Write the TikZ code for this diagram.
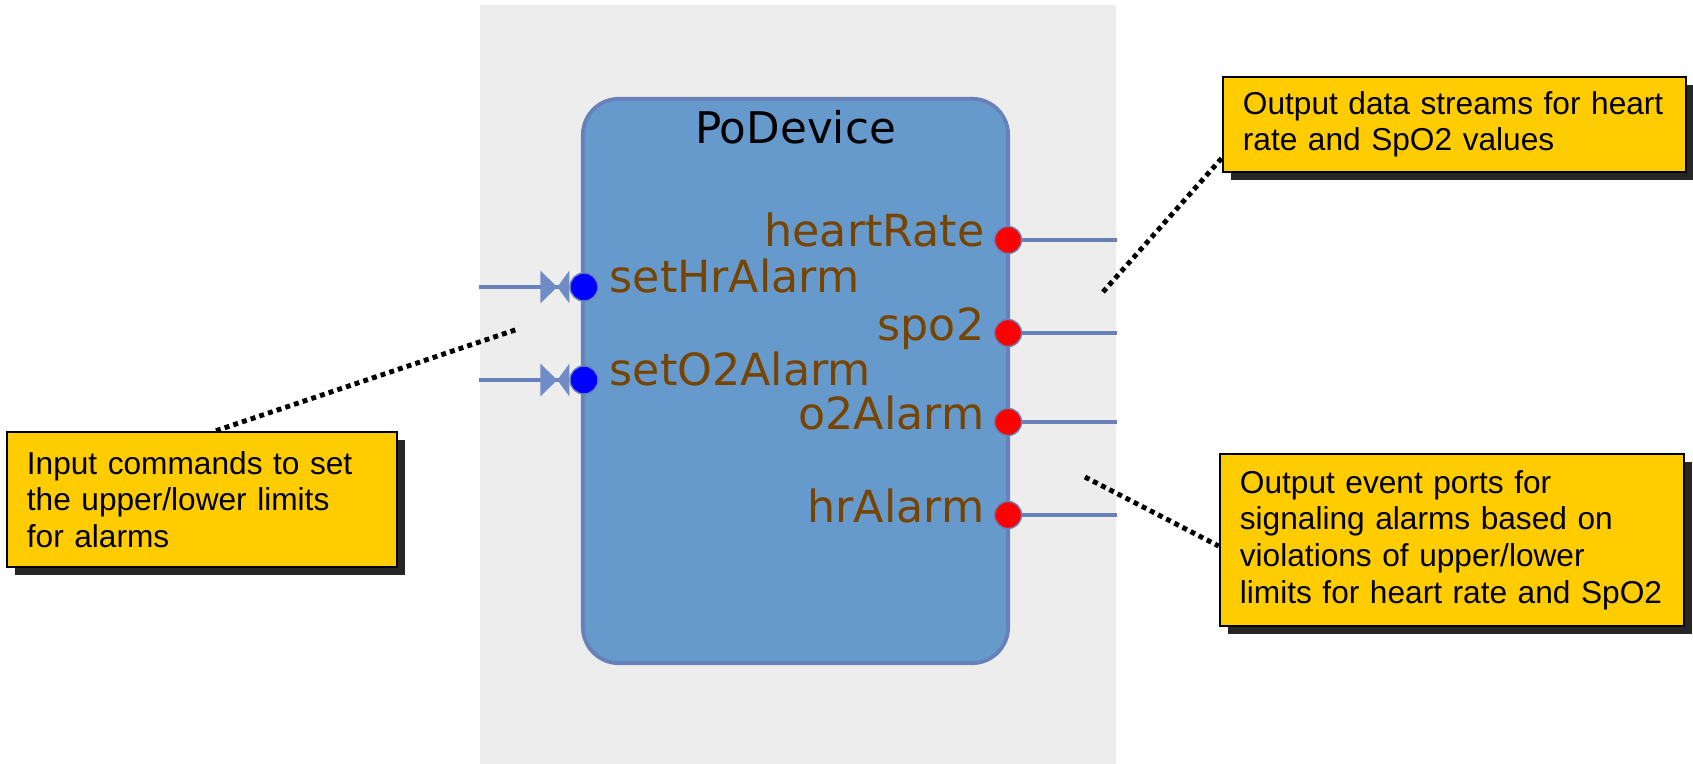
\documentclass[tikz,border=0pt]{standalone}
\usepackage{fontspec}
\usepackage{xcolor}
\usetikzlibrary{arrows.meta,positioning,shadows}
\newfontfamily\portfont{DejaVu Sans}
\newfontfamily\notefont{Liberation Sans}
\definecolor{panelgray}{RGB}{237,237,237}
\definecolor{blockblue}{RGB}{102,153,204}
\definecolor{wireblue}{RGB}{104,130,185}
\definecolor{tipblue}{RGB}{112,140,198}
\definecolor{portbrown}{RGB}{119,68,0}
\definecolor{notegold}{RGB}{255,204,0}

\begin{document}
\begin{tikzpicture}[
  x=0.01cm, y=-0.01cm,
  pnl/.style={rectangle, fill=panelgray, inner sep=0pt, minimum width=6.36cm, minimum height=7.59cm},
  blk/.style={rectangle, rounded corners=0.36cm, draw=wireblue, line width=1.1pt, fill=blockblue,
              minimum width=4.25cm, minimum height=5.64cm},
  outp/.style={circle, inner sep=0pt, minimum size=0.27cm, fill=red, draw=wireblue, line width=0.4pt},
  inp/.style={circle, inner sep=0pt, minimum size=0.28cm, fill=blue, draw=wireblue, line width=0.4pt},
  plbl/.style={inner sep=0pt, text=portbrown, font=\portfont\fontsize{12.6pt}{14pt}\selectfont},
  note/.style={rectangle, draw=black, line width=0.7pt, fill=notegold, align=left,
               inner xsep=0.2cm, inner ysep=0pt, font=\notefont\fontsize{9pt}{10.4pt}\selectfont,
               drop shadow={shadow xshift=0.08cm, shadow yshift=-0.08cm, fill=black!85, opacity=1}},
  wire/.style={draw=wireblue, line width=1.1pt},
  inarr/.style={-{Triangle[length=1.7mm,width=3.2mm,color=tipblue]Triangle[reversed,length=1.2mm,width=3.2mm,color=tipblue]}},
  dots/.style={line width=1.4pt, dash pattern=on 1.4pt off 1.2pt},
]
\useasboundingbox (0,0) rectangle (1693,764);
\node[pnl] (panel) at (798,384.5) {};
\node[blk] (blk) at (795.5,381) {};
\node[anchor=base, inner sep=0pt, font=\portfont\fontsize{12.4pt}{14pt}\selectfont]
  (title) at ([yshift=-0.47cm]blk.north) {PoDevice};

\node[outp] (phr) at (1008,240) {};
\node[outp] (pspo) at (1008,333) {};
\node[outp] (po2a) at (1008,422) {};
\node[outp] (phra) at (1008,515) {};
\node[inp] (pshr) at (584,287) {};
\node[inp] (pso2) at (584,380) {};

\node[plbl, anchor=base east] (lhr) at ([xshift=-0.23cm,yshift=-0.07cm]phr.center) {heartRate};
\node[plbl, anchor=base east] (lspo) at ([xshift=-0.23cm,yshift=-0.07cm]pspo.center) {spo2};
\node[plbl, anchor=base east] (lo2a) at ([xshift=-0.23cm,yshift=-0.07cm]po2a.center) {o2Alarm};
\node[plbl, anchor=base east] (lhra) at ([xshift=-0.23cm,yshift=-0.07cm]phra.center) {hrAlarm};
\node[plbl, anchor=base west] (lshr) at ([xshift=0.25cm,yshift=-0.06cm]pshr.center) {setHrAlarm};
\node[plbl, anchor=base west] (lso2) at ([xshift=0.25cm,yshift=-0.06cm]pso2.center) {setO2Alarm};

\draw[wire] (phr) -- (phr -| panel.east);
\draw[wire] (pspo) -- (pspo -| panel.east);
\draw[wire] (po2a) -- (po2a -| panel.east);
\draw[wire] (phra) -- (phra -| panel.east);
\draw[wire, inarr] (pshr -| panel.west) -- (pshr);
\draw[wire, inarr] (pso2 -| panel.west) -- (pso2);

\node[note, text width=3.5cm, minimum height=1.35cm] (lcall) at (202,499.5)
  {Input commands to set\\the upper/lower limits\\for alarms};
\node[note, text width=4.23cm, minimum height=0.95cm] (rtop) at (1454.5,124.5)
  {Output data streams for heart\\rate and SpO2 values};
\node[note, text width=4.24cm, minimum height=1.72cm] (rbot) at (1452,540)
  {Output event ports for\\signaling alarms based on\\violations of upper/lower\\limits for heart rate and SpO2};

\coordinate (lend) at (518,329);
\coordinate (rtend) at (1103,292);
\coordinate (rbend) at (1085,477);
\draw[dots] ([xshift=0.14cm]lcall.north) -- (lend);
\draw[dots] (rtend) -- ([yshift=0.15cm]rtop.south west);
\draw[dots] (rbend) -- ([yshift=-0.06cm]rbot.west);
\end{tikzpicture}
\end{document}
